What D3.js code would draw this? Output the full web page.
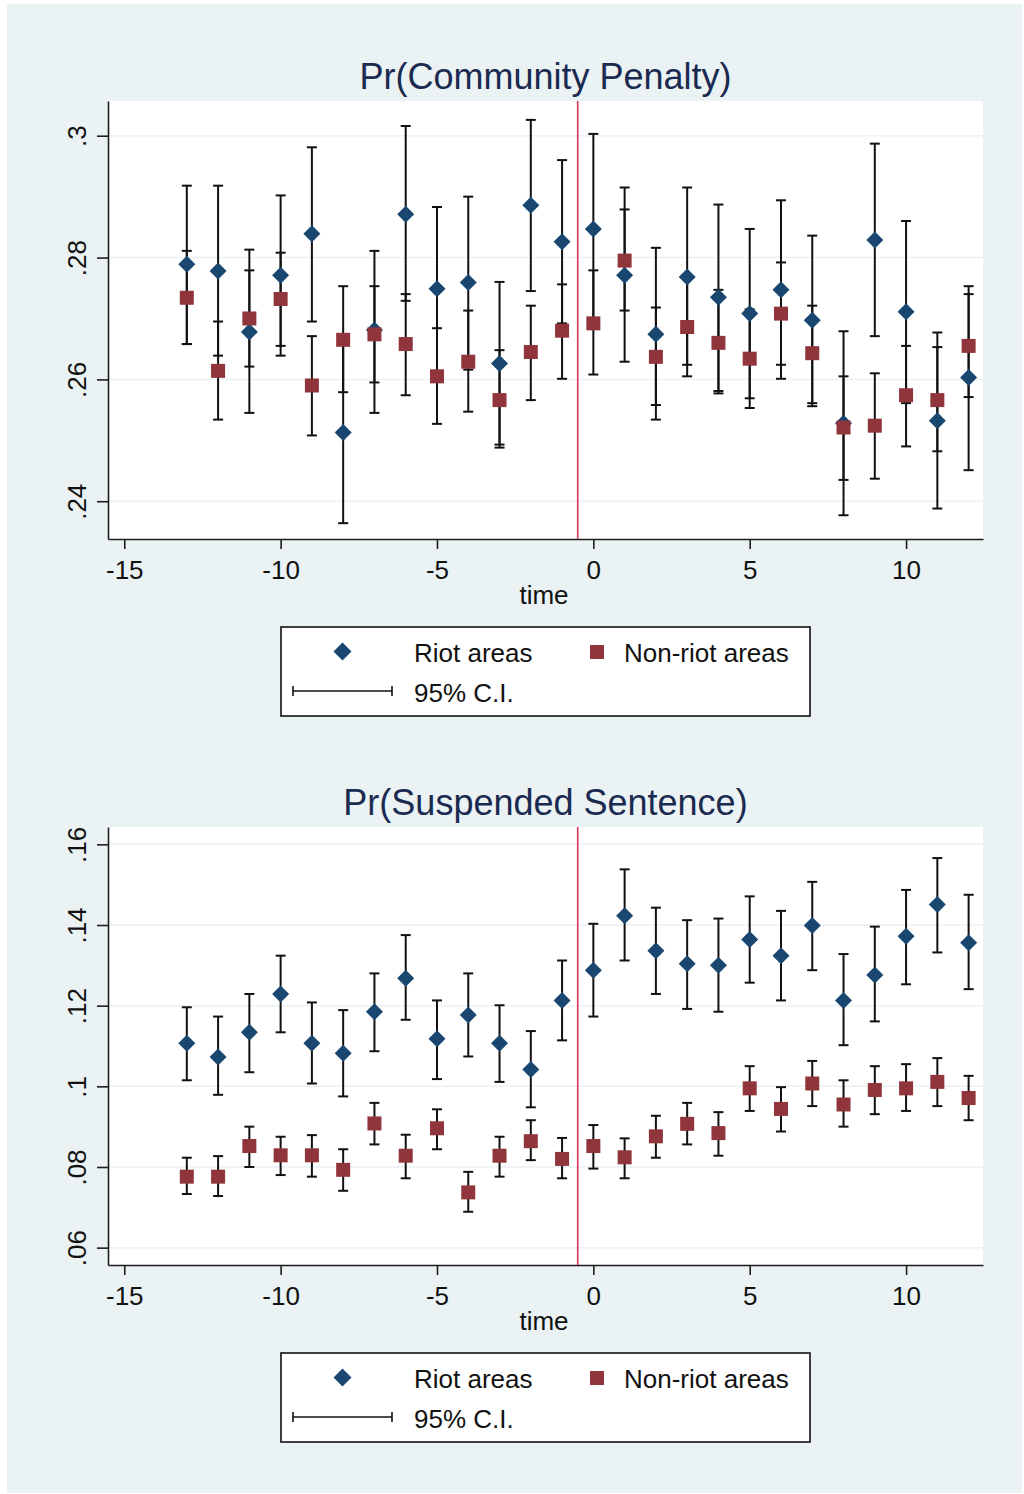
<!DOCTYPE html>
<html>
<head>
<meta charset="utf-8">
<script src="https://cdn.jsdelivr.net/npm/d3@7"></script>
<style>
  html, body { margin: 0; padding: 0; background: #ffffff; }
  svg { display: block; }
  text { font-family: "Liberation Sans", Arial, sans-serif; }
</style>
</head>
<body>
<svg id="chart" width="1024" height="1494"></svg>
<script>
// Event time (months relative to the riots)
const times = [-13,-12,-11,-10,-9,-8,-7,-6,-5,-4,-3,-2,-1,0,1,2,3,4,5,6,7,8,9,10,11,12];

// Pr(Community Penalty): point estimates and 95% bounds
const cpRiot   = [.2789,.2778,.2678,.2771,.2839,.2513,.2681,.2871,.2749,.2759,.2626,.2886,.2826,.2847,.2771,.2674,.2768,.2735,.2708,.2747,.2697,.2528,.2829,.2711,.2532,.2603];
const cpRiotLo = [.2658,.2639,.2545,.2639,.2695,.2364,.2545,.2729,.2614,.2616,.2493,.2745,.2692,.2695,.2629,.2534,.2624,.2581,.2569,.2601,.2556,.2377,.2671,.2561,.2388,.2451];
const cpRiotHi = [.2918,.2918,.2813,.2902,.2981,.2661,.2811,.3016,.2883,.2900,.2760,.3026,.2960,.3003,.2915,.2816,.2915,.2887,.2847,.2894,.2836,.2679,.2987,.2860,.2677,.2753];
const cpNon    = [.2734,.2614,.2700,.2732,.2590,.2665,.2674,.2658,.2605,.2629,.2566,.2645,.2680,.2692,.2795,.2637,.2686,.2660,.2634,.2708,.2643,.2521,.2524,.2574,.2566,.2655];
const cpNonLo  = [.2658,.2534,.2621,.2655,.2508,.2579,.2595,.2574,.2527,.2547,.2488,.2566,.2601,.2608,.2713,.2558,.2605,.2577,.2553,.2624,.2561,.2435,.2437,.2490,.2482,.2571];
const cpNonHi  = [.2811,.2695,.2779,.2808,.2671,.2753,.2753,.2740,.2684,.2713,.2648,.2721,.2756,.2779,.2879,.2718,.2768,.2747,.2715,.2792,.2721,.2605,.2610,.2655,.2653,.2740];

// Pr(Suspended Sentence): point estimates and 95% bounds
const ssRiot   = [.1107,.1073,.1134,.1229,.1107,.1082,.1185,.1268,.1118,.1177,.1107,.1042,.1213,.1288,.1423,.1336,.1304,.1300,.1364,.1324,.1399,.1213,.1276,.1372,.1451,.1356];
const ssRiotLo = [.1015,.0979,.1035,.1134,.1007,.0975,.1087,.1165,.1018,.1074,.1011,.0948,.1114,.1173,.1312,.1229,.1192,.1185,.1257,.1213,.1288,.1102,.1161,.1253,.1332,.1241];
const ssRiotHi = [.1196,.1173,.1229,.1324,.1208,.1189,.1280,.1375,.1213,.1280,.1201,.1137,.1312,.1403,.1538,.1443,.1412,.1416,.1471,.1435,.1507,.1328,.1396,.1487,.1566,.1475];
const ssNon    = [.0776,.0776,.0852,.0829,.0829,.0793,.0908,.0828,.0896,.0737,.0828,.0864,.0820,.0852,.0824,.0876,.0907,.0884,.0995,.0944,.1007,.0955,.0991,.0995,.1011,.0971];
const ssNonLo  = [.0733,.0728,.0800,.0780,.0776,.0741,.0856,.0772,.0844,.0689,.0776,.0817,.0772,.0796,.0772,.0823,.0856,.0828,.0939,.0888,.0951,.0900,.0931,.0939,.0951,.0916];
const ssNonHi  = [.0823,.0827,.0900,.0875,.0879,.0844,.0959,.0880,.0943,.0788,.0875,.0916,.0872,.0904,.0871,.0927,.0959,.0936,.1050,.0998,.1063,.1015,.1050,.1055,.1070,.1026];

// Axis ticks
const xTicks = [-15,-10,-5,0,5,10];
const cpTicks = [.24,.26,.28,.3];
const cpTickLabels = [".24",".26",".28",".3"];
const ssTicks = [.06,.08,.1,.12,.14,.16];
const ssTickLabels = [".06",".08",".1",".12",".14",".16"];

const seriesNames = ["Riot areas", "Non-riot areas", "95% C.I."];
const eventLine = -0.5;

const C = {
  bg: "#eaf2f3",
  grid: "#eaf2f3",
  riot: "#1a476f",
  non: "#90353b",
  axis: "#1e1e1e",
  title: "#1a2a50",
  event: "#d8335f"
};

const svg = d3.select("#chart");

// outer graph region
svg.append("rect").attr("x", 7).attr("y", 4).attr("width", 1015).attr("height", 1489).attr("fill", C.bg);

const left = 108, right = 983, plotH = 438;

const x = d3.scaleLinear().domain([-15.52, 12.46]).range([left, right]);

function diamondPath(r) {
  return `M0,${-r}L${r},0L0,${r}L${-r},0Z`;
}

function drawPanel(cfg) {
  const top = cfg.top, bottom = top + plotH;
  const y = d3.scaleLinear().domain(cfg.domain).range([bottom, top]);
  const g = svg.append("g");

  // plot region
  g.append("rect").attr("x", left).attr("y", top).attr("width", right - left).attr("height", plotH).attr("fill", "#ffffff");

  // title
  g.append("text")
    .attr("x", (left + right) / 2).attr("y", top - 12)
    .attr("text-anchor", "middle")
    .attr("font-size", 36)
    .attr("fill", C.title)
    .text(cfg.title);

  // gridlines
  g.append("g").selectAll("line").data(cfg.ticks).join("line")
    .attr("x1", left).attr("x2", right)
    .attr("y1", d => y(d)).attr("y2", d => y(d))
    .attr("stroke", C.grid).attr("stroke-width", 1.5);

  // y axis
  const yAxis = d3.axisLeft(y).tickValues(cfg.ticks).tickSizeInner(11).tickSizeOuter(0).tickPadding(0)
    .tickFormat((d, i) => cfg.tickLabels[i]);
  const ya = g.append("g").attr("transform", `translate(${left},0)`).call(yAxis);
  ya.select(".domain").attr("stroke", C.axis).attr("stroke-width", 1.6);
  ya.selectAll(".tick line").attr("stroke", C.axis).attr("stroke-width", 1.6);
  ya.selectAll(".tick text")
    .attr("font-size", 26).attr("fill", "#111")
    .attr("font-family", '"Liberation Sans", Arial, sans-serif')
    .attr("x", 0).attr("dy", 0)
    .attr("text-anchor", "middle")
    .attr("transform", "translate(-22,0) rotate(-90)");

  // x axis
  const xAxis = d3.axisBottom(x).tickValues(xTicks).tickSizeInner(10).tickSizeOuter(0).tickPadding(0).tickFormat(d3.format("d"));
  const xa = g.append("g").attr("transform", `translate(0,${bottom})`).call(xAxis);
  xa.select(".domain").attr("stroke", C.axis).attr("stroke-width", 1.6);
  xa.selectAll(".tick line").attr("stroke", C.axis).attr("stroke-width", 1.6);
  xa.selectAll(".tick text")
    .attr("font-size", 26).attr("fill", "#111")
    .attr("font-family", '"Liberation Sans", Arial, sans-serif')
    .attr("y", 40).attr("dy", 0)
    .text(d => d < 0 ? "-" + Math.abs(d) : d);

  g.append("text")
    .attr("x", 544).attr("y", bottom + 65)
    .attr("text-anchor", "middle").attr("font-size", 26).attr("fill", "#111")
    .text("time");

  // event line
  g.append("line")
    .attr("x1", x(eventLine)).attr("x2", x(eventLine))
    .attr("y1", top).attr("y2", bottom)
    .attr("stroke", C.event).attr("stroke-width", 1.6);

  // confidence intervals
  const cap = 5;
  function bars(lo, hi) {
    const bg = g.append("g").attr("stroke", "#111").attr("stroke-width", 2).attr("fill", "none");
    times.forEach((t, i) => {
      const cx = x(t);
      bg.append("line").attr("x1", cx).attr("x2", cx).attr("y1", y(lo[i])).attr("y2", y(hi[i]));
      bg.append("line").attr("x1", cx - cap).attr("x2", cx + cap).attr("y1", y(lo[i])).attr("y2", y(lo[i]));
      bg.append("line").attr("x1", cx - cap).attr("x2", cx + cap).attr("y1", y(hi[i])).attr("y2", y(hi[i]));
    });
  }
  bars(cfg.riotLo, cfg.riotHi);
  bars(cfg.nonLo, cfg.nonHi);

  // markers
  g.append("g").selectAll("path").data(times).join("path")
    .attr("d", diamondPath(8.5))
    .attr("transform", (t, i) => `translate(${x(t)},${y(cfg.riot[i])})`)
    .attr("fill", C.riot);
  g.append("g").selectAll("rect").data(times).join("rect")
    .attr("x", t => x(t) - 7)
    .attr("y", (t, i) => y(cfg.non[i]) - 7)
    .attr("width", 14).attr("height", 14)
    .attr("fill", C.non);

  // legend
  const ly = bottom + 88;
  const lg = g.append("g");
  lg.append("rect").attr("x", 281).attr("y", ly).attr("width", 529).attr("height", 89)
    .attr("fill", "#ffffff").attr("stroke", "#111").attr("stroke-width", 1.6);
  lg.append("path").attr("d", diamondPath(9)).attr("transform", `translate(342.5,${ly + 24.5})`).attr("fill", C.riot);
  lg.append("text").attr("x", 414).attr("y", ly + 35).attr("font-size", 26).attr("fill", "#111").text(seriesNames[0]);
  lg.append("rect").attr("x", 590).attr("y", ly + 18).attr("width", 14).attr("height", 14).attr("fill", C.non);
  lg.append("text").attr("x", 624).attr("y", ly + 35).attr("font-size", 26).attr("fill", "#111").text(seriesNames[1]);
  const ciy = ly + 64;
  const cg = lg.append("g").attr("stroke", "#111").attr("stroke-width", 1.6);
  cg.append("line").attr("x1", 293).attr("x2", 392).attr("y1", ciy).attr("y2", ciy);
  cg.append("line").attr("x1", 293).attr("x2", 293).attr("y1", ciy - 5).attr("y2", ciy + 5);
  cg.append("line").attr("x1", 392).attr("x2", 392).attr("y1", ciy - 5).attr("y2", ciy + 5);
  lg.append("text").attr("x", 414).attr("y", ly + 74.5).attr("font-size", 26).attr("fill", "#111").text(seriesNames[2]);
}

drawPanel({
  title: "Pr(Community Penalty)", top: 101, domain: [0.2338, 0.3057],
  ticks: cpTicks, tickLabels: cpTickLabels,
  riot: cpRiot, riotLo: cpRiotLo, riotHi: cpRiotHi,
  non: cpNon, nonLo: cpNonLo, nonHi: cpNonHi
});

drawPanel({
  title: "Pr(Suspended Sentence)", top: 827, domain: [0.0557, 0.1643],
  ticks: ssTicks, tickLabels: ssTickLabels,
  riot: ssRiot, riotLo: ssRiotLo, riotHi: ssRiotHi,
  non: ssNon, nonLo: ssNonLo, nonHi: ssNonHi
});
</script>
</body>
</html>
